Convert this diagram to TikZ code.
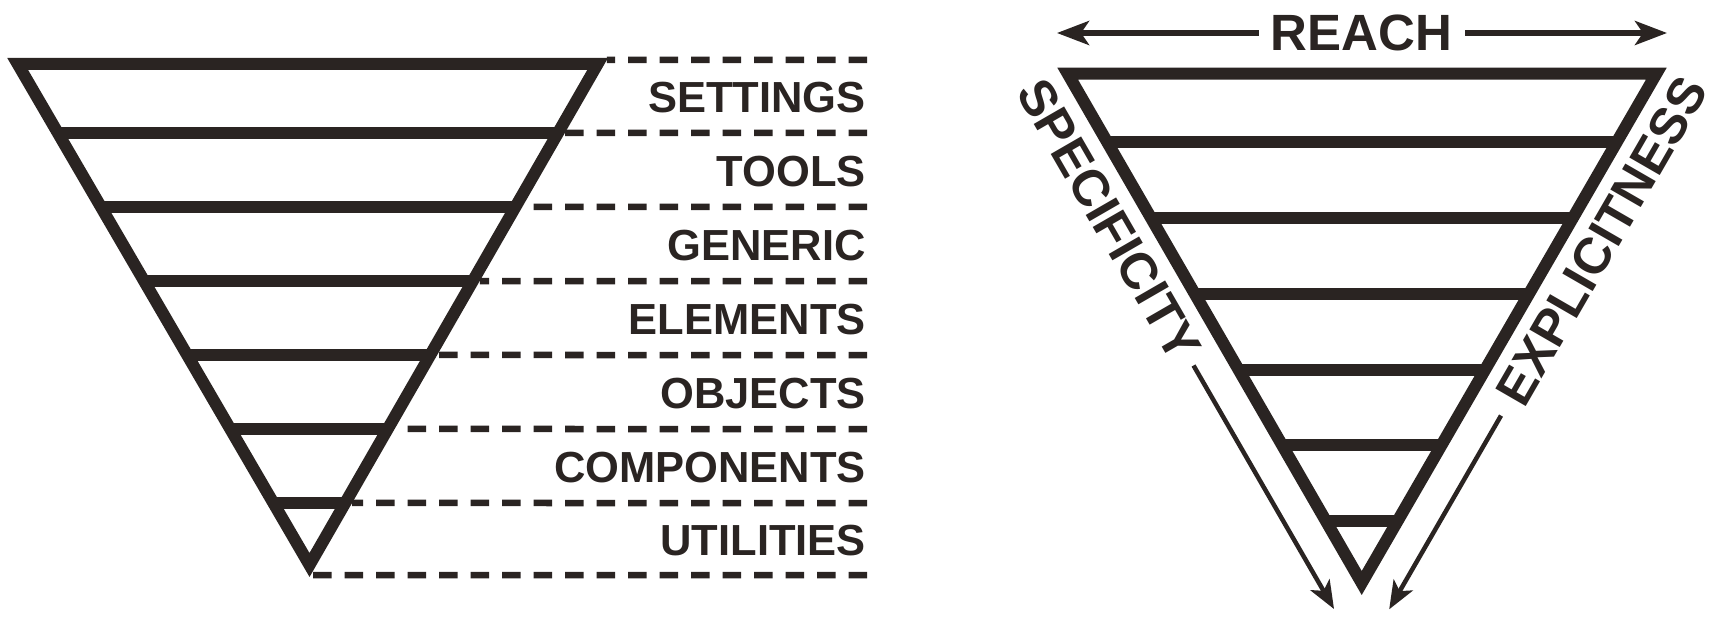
\documentclass[tikz,border=0pt]{standalone}
\usepackage{fontspec}
\setmainfont{Liberation Sans}
\usetikzlibrary{arrows.meta,calc}
\definecolor{ink}{RGB}{42,36,34}
\begin{document}
\begin{tikzpicture}[x=1pt,y=-1pt,
  frame/.style={draw=ink, line width=12pt, line join=miter},
  divider/.style={draw=ink, line width=12pt},
  guide/.style={draw=ink, line width=6.5pt, dash pattern=on 18.5pt off 13pt},
  lbl/.style={font=\bfseries\fontsize{43.5}{43.5}\selectfont, text=ink, inner sep=0pt, anchor=east},
  axis/.style={font=\bfseries\fontsize{51}{51}\selectfont, text=ink, inner sep=0pt},
  bigarrow/.style={draw=ink, line width=5.5pt, -{Stealth[length=32pt,width=24pt,inset=8pt]}},
  sidearrow/.style={draw=ink, line width=4.5pt, -{Stealth[length=28pt,width=22pt,inset=7pt]}},
]
\useasboundingbox (0,0) rectangle (1720,620);
\fill[white] (0,0) rectangle (1720,620);

% ---------- left funnel ----------
\coordinate (LA) at (17.7,64);
\coordinate (LB) at (597.6,64);
\coordinate (LC) at (309.5,565);
\coordinate (LBo) at (608,58);
\coordinate (LCo) at (309.5,577);
\foreach \y in {133,207,281,355,429,503} {
  \pgfmathsetmacro{\t}{(\y-64)/501}
  \draw[divider] ($(LA)!\t!(LC)$) -- ($(LB)!\t!(LC)$);
}
\foreach \y in {60,133,207,281,355,429,503,575} {
  \pgfmathsetmacro{\t}{(\y-58)/519}
  \draw[guide] (867,\y) -- ($(LBo)!\t!(LCo)$);
}
\draw[frame] (LA) -- (LB) -- (LC) -- cycle;

\node[lbl] (settings)   at (866,98)    {SETTINGS};
\node[lbl] (tools)      at (866,171.5) {TOOLS};
\node[lbl] (generic)    at (866,245.5) {GENERIC};
\node[lbl] (elements)   at (866,319.5) {ELEMENTS};
\node[lbl] (objects)    at (866,393.5) {OBJECTS};
\node[lbl] (components) at (866,467.5) {COMPONENTS};
\node[lbl] (utilities)  at (866,540.5) {UTILITIES};

% ---------- right funnel ----------
\coordinate (RA) at (1067.7,73.7);
\coordinate (RB) at (1656.3,73.7);
\coordinate (RC) at (1361.7,583);
\foreach \y in {142.5,218.2,293.9,369.6,445.3,521} {
  \pgfmathsetmacro{\t}{(\y-73.7)/509.3}
  \draw[divider] ($(RA)!\t!(RC)$) -- ($(RB)!\t!(RC)$);
}
\draw[frame] (RA) -- (RB) -- (RC) -- cycle;

\node[axis] (reach) at (1361.5,33) {REACH};
\coordinate (reachL) at (1057,33);
\coordinate (reachR) at (1667,33);
\draw[bigarrow] ([xshift=-12pt]reach.west) -- (reachL);
\draw[bigarrow] ([xshift=13pt]reach.east) -- (reachR);

\node[axis, anchor=west, rotate=-60] (spec) at (1030.5,83.2) {SPECIFICITY};
\coordinate (specS) at (1193.5,365.5);
\coordinate (specT) at (1334,609);
\draw[sidearrow] (specS) -- (specT);

\node[axis, anchor=east, rotate=60] (expl) at (1694,81.4) {EXPLICITNESS};
\coordinate (explS) at (1501,415.6);
\coordinate (explT) at (1389.2,609.3);
\draw[sidearrow] (explS) -- (explT);
\end{tikzpicture}
\end{document}
